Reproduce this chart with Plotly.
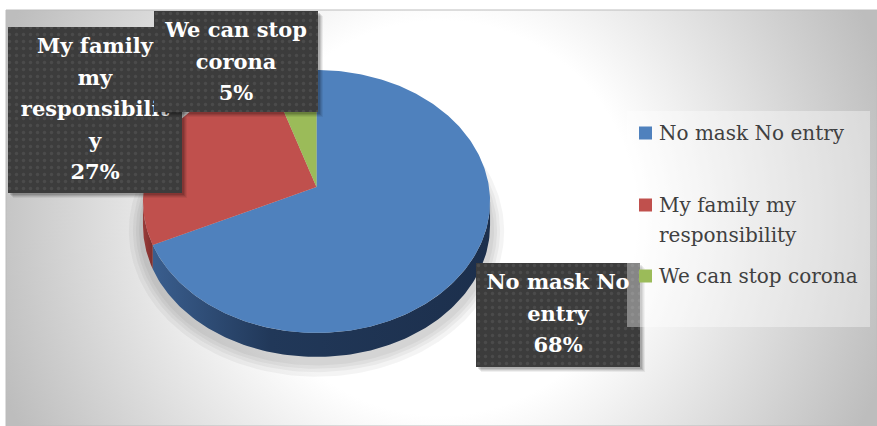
import numpy as np
import plotly.graph_objects as go

# ---- data -------------------------------------------------------------
labels = ["No mask No entry", "My family my responsibility", "We can stop corona"]
shares = [68, 27, 5]
# data-label text as it wraps inside each callout box (percent line is appended)
callout_lines = [["No mask No", "entry"],
                 ["My family", "my", "responsibilit", "y"],
                 ["We can stop", "corona"]]
legend_lines = [["No mask No entry"], ["My family my", "responsibility"], ["We can stop corona"]]

# ---- styling ----------------------------------------------------------
top_colors = ["#4F81BD", "#C0504D", "#9BBB59"]
side_scales = [
    [[0, "#3a5e8e"], [0.35, "#213859"], [1, "#1c2f4c"]],
    [[0, "#9a3d3b"], [1, "#7e2f2d"]],
    [[0, "#6f8a3e"], [1, "#5c7433"]],
]
W, H = 877, 426
LEFT, TOP = 6, 10            # chart area offset inside the page

# pie projection (tilted disc seen in perspective)
CX, CY = 316.5, 187.0        # projected centre of the disc
R, B, K = 172.5, 129.9, 0.11 # horizontal radius, vertical radius, perspective factor
DEPTH = 24                   # thickness of the disc

# callout boxes (x0, y0, x1, y1) in page pixels
boxes = [(476, 263, 640, 367), (8, 27, 182, 193), (154, 11, 318, 112)]
LINE_STEP = 31.5
FIRST_LINE = 21

LEG_BOX = (627, 111, 870, 327)
LEG_SQ_X = 645.5
LEG_TEXT_X = 657
legend_rows = [[133], [205, 234.5], [276]]


def proj(theta, extra=0.0):
    """Project an angle (clockwise from 12 o'clock) onto the tilted pie rim."""
    c = np.cos(theta)
    s = 1.0 / (1.0 + K * c)
    return CX + (R + extra) * np.sin(theta) * s, CY - (B + extra) * c * s


fig = go.Figure()

# chart area background with a soft radial highlight
S = 470
bx = [440 - S, 440 + S, 440 + S, 440 - S, 440 - S]
by = [218 - S, 218 - S, 218 + S, 218 + S, 218 - S]
fig.add_trace(go.Scatter(
    x=bx, y=by, mode="lines", fill="toself", line=dict(width=0),
    fillgradient=dict(type="radial",
                      colorscale=[[0, "#ffffff"], [0.42, "#ffffff"], [1, "#bdbdbd"]]),
    hoverinfo="skip", showlegend=False))

# soft shadow under the disc
full = np.linspace(0, 2 * np.pi, 240)
for grow in [14, 10, 7, 4]:
    sx, sy = proj(full, grow)
    fig.add_trace(go.Scatter(
        x=sx, y=sy + DEPTH + 4, mode="lines", fill="toself", line=dict(width=0),
        fillcolor="rgba(0,0,0,0.045)", hoverinfo="skip", showlegend=False))

# slice boundaries, clockwise from the top
bounds = np.concatenate([[0], np.cumsum(shares)]) / sum(shares) * 2 * np.pi
vis0 = np.arccos(-K)
vis1 = 2 * np.pi - vis0

# visible rim (side wall) of each slice
for i in range(len(shares)):
    a0, a1 = max(bounds[i], vis0), min(bounds[i + 1], vis1)
    if a1 <= a0:
        continue
    t = np.linspace(a0, a1, 120)
    ux, uy = proj(t)
    xs = np.concatenate([ux, ux[::-1], ux[:1]])
    ys = np.concatenate([uy, uy[::-1] + DEPTH, uy[:1]])
    fig.add_trace(go.Scatter(
        x=xs, y=ys, mode="lines", fill="toself", line=dict(width=0),
        fillgradient=dict(type="horizontal", colorscale=side_scales[i]),
        hoverinfo="skip", showlegend=False))

# top faces of the slices
for i in range(len(shares)):
    t = np.linspace(bounds[i], bounds[i + 1], max(8, int(shares[i] * 4)))
    ux, uy = proj(t)
    xs = np.concatenate([[CX], ux, [CX]])
    ys = np.concatenate([[CY], uy, [CY]])
    fig.add_trace(go.Scatter(
        x=xs, y=ys, mode="lines", fill="toself", line=dict(width=0),
        fillcolor=top_colors[i], name=labels[i],
        hovertemplate=f"{labels[i]}: {shares[i]}%<extra></extra>", showlegend=False))

# data-label callouts: red first, then green on top of it, then blue
for i in [1, 2, 0]:
    x0, y0, x1, y1 = boxes[i]
    for d, a in [(5, 0.06), (4, 0.08), (3, 0.10), (2, 0.12)]:
        fig.add_trace(go.Scatter(
            x=[x0 + d, x1 + d, x1 + d, x0 + d, x0 + d],
            y=[y0 + d, y0 + d, y1 + d, y1 + d, y0 + d],
            mode="lines", fill="toself", line=dict(width=0),
            fillcolor=f"rgba(0,0,0,{a})", hoverinfo="skip", showlegend=False))
    fig.add_trace(go.Scatter(
        x=[x0, x1, x1, x0, x0], y=[y0, y0, y1, y1, y0],
        mode="lines", fill="toself", line=dict(width=0), fillcolor="#3c3c3c",
        fillpattern=dict(shape=".", bgcolor="#3c3c3c", fgcolor="#4b4b4b",
                         size=7, solidity=0.18, fillmode="replace"),
        hoverinfo="skip", showlegend=False))
    lines = callout_lines[i] + [f"{shares[i]}%"]
    cxb = (x0 + x1) / 2
    fig.add_trace(go.Scatter(
        x=[cxb] * len(lines),
        y=[y0 + FIRST_LINE + k * LINE_STEP for k in range(len(lines))],
        mode="text", text=lines, textposition="middle center",
        textfont=dict(family="DejaVu Serif", size=21, color="#ffffff", weight="bold"),
        hoverinfo="skip", showlegend=False, cliponaxis=False))

# legend panel
lx0, ly0, lx1, ly1 = LEG_BOX
fig.add_trace(go.Scatter(
    x=[lx0, lx1, lx1, lx0, lx0], y=[ly0, ly0, ly1, ly1, ly0],
    mode="lines", fill="toself", line=dict(width=0),
    fillcolor="rgba(255,255,255,0.38)", hoverinfo="skip", showlegend=False))
fig.add_trace(go.Scatter(
    x=[LEG_SQ_X] * len(labels), y=[rows[0] for rows in legend_rows],
    mode="markers", marker=dict(symbol="square", size=13, color=top_colors,
                                line=dict(width=0)),
    hoverinfo="skip", showlegend=False))

annotations = []
for i, rows in enumerate(legend_rows):
    for txt, yy in zip(legend_lines[i], rows):
        annotations.append(dict(
            x=LEG_TEXT_X, y=yy, xref="x", yref="y", text=txt, showarrow=False,
            xanchor="left", yanchor="middle",
            font=dict(family="DejaVu Serif", size=20, color="#404040")))

fig.update_layout(
    width=W, height=H, margin=dict(l=LEFT, r=0, t=TOP, b=0, pad=0),
    paper_bgcolor="#ffffff", plot_bgcolor="#ffffff",
    xaxis=dict(range=[LEFT, W], visible=False, fixedrange=True),
    yaxis=dict(range=[H, TOP], visible=False, fixedrange=True),
    showlegend=False, hovermode="closest",
    annotations=annotations,
    shapes=[dict(type="rect", xref="paper", yref="paper", x0=0, y0=0, x1=1, y1=1,
                 line=dict(color="#bcbcbc", width=1), layer="above")],
)

fig.write_html("out.html")
